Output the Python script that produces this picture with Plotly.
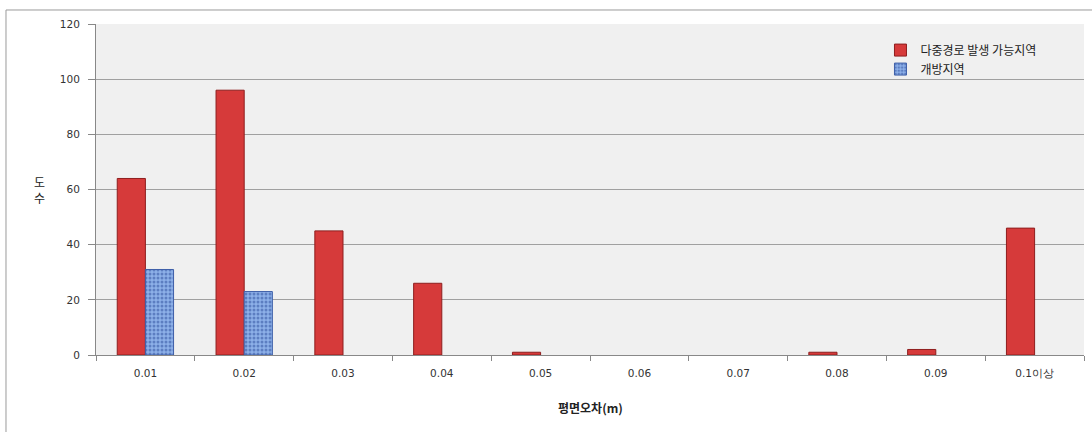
import plotly.graph_objects as go

categories = ["0.01", "0.02", "0.03", "0.04", "0.05", "0.06", "0.07", "0.08", "0.09", "0.1이상"]
multipath = [64, 96, 45, 26, 1, 0, 0, 1, 2, 46]
open_area = [31, 23, 0, 0, 0, 0, 0, 0, 0, 0]
y_ticks = [0, 20, 40, 60, 80, 100, 120]

FONT = "Noto Sans CJK KR, Noto Sans, sans-serif"
NUMFONT = "DejaVu Sans, sans-serif"

fig = go.Figure()
fig.add_trace(go.Bar(
    x=categories, y=multipath, name="다중경로 발생 가능지역",
    marker=dict(color="#D63A3A",
                line=dict(color="#8E1E1E", width=[1 if v else 0 for v in multipath])),
))
fig.add_trace(go.Bar(
    x=categories, y=open_area, name="개방지역",
    marker=dict(color="#7FA2DE",
                line=dict(color="#3E5FA8", width=[1 if v else 0 for v in open_area]),
                pattern=dict(shape=".", fgcolor="#2B4C9A", bgcolor="#8DB0E8", size=4, solidity=0.45)),
))

fig.update_layout(
    width=1092, height=432,
    margin=dict(l=96, r=8, t=24, b=77),
    paper_bgcolor="white", plot_bgcolor="#F0F0F0",
    barmode="group", bargap=0.43, bargroupgap=0,
    font=dict(family=FONT, size=11, color="#333333"),
    showlegend=True,
    legend=dict(x=0.794, y=0.965, xanchor="left", yanchor="top",
                bgcolor="rgba(0,0,0,0)", font=dict(size=12, color="#222222"),
                itemwidth=30, tracegroupgap=2),
    xaxis=dict(type="category", showgrid=False, tickson="boundaries",
               ticks="outside", ticklen=5, tickcolor="#888888",
               showline=True, linecolor="#888888", linewidth=1,
               ticklabelstandoff=8,
               tickfont=dict(family=NUMFONT, size=10.5, color="#333333")),
    yaxis=dict(range=[0, 120], tickvals=y_ticks, showgrid=True, gridcolor="#A0A0A0",
               gridwidth=1, ticks="outside", ticklen=7, tickcolor="#888888",
               showline=True, linecolor="#888888", linewidth=1, zeroline=False,
               ticklabelstandoff=6,
               tickfont=dict(family=NUMFONT, size=10.5, color="#333333")),
    shapes=[dict(type="rect", xref="paper", yref="paper",
                 x0=-0.0911, x1=1.02, y0=-0.27, y1=1.0423,
                 line=dict(color="#9A9A9A", width=1), fillcolor="rgba(0,0,0,0)", layer="below")],
    annotations=[
        dict(text="도<br>수", xref="paper", yref="paper", x=-0.0567, y=0.5,
             xanchor="center", yanchor="middle",
             showarrow=False, font=dict(size=12, color="#222222")),
        dict(text="<b>평면오차(m)</b>", xref="paper", yref="paper", x=0.5, y=-0.16,
             xanchor="center", yanchor="middle",
             showarrow=False, font=dict(size=12, color="#222222")),
    ],
)

fig.write_html("out.html")
